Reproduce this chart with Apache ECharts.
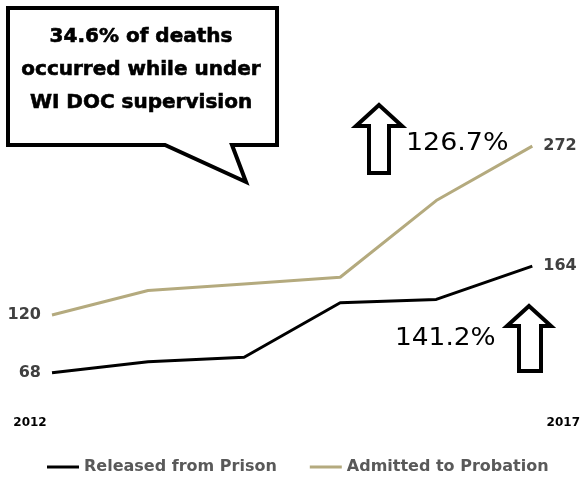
<!DOCTYPE html>
<html><head><meta charset="utf-8">
<script src="https://cdn.jsdelivr.net/npm/echarts@6/dist/echarts.min.js"></script>
<style>html,body{margin:0;padding:0;background:#fff}#c{width:583px;height:477px}</style>
</head><body><div id="c"></div>
<script>
const years = ['2012','2013','2014','2015','2016','2017'];
const releasedFromPrison = [68, 78, 82, 131, 134, 164];
const admittedToProbation = [120, 142, 148, 154, 223, 272];
const seriesNames = ['Released from Prison', 'Admitted to Probation'];
const calloutLines = ['34.6% of deaths', 'occurred while under', 'WI DOC supervision'];
const probationChange = '126.7%';
const prisonChange = '141.2%';

const chart = echarts.init(document.getElementById('c'));
const lastIdx = years.length - 1;
const lblFont = {color: '#404040', fontWeight: 'bold', fontSize: 16, fontFamily: 'DejaVu Sans'};
function withEndLabels(vals) {
  return vals.map((v, i) => {
    if (i === 0) return {value: v, label: Object.assign({show: true, position: 'left', distance: 11}, lblFont)};
    if (i === lastIdx) return {value: v, label: Object.assign({show: true, position: 'right', distance: 11}, lblFont)};
    return {value: v};
  });
}
const labelStyle = Object.assign({show: false}, lblFont);
const bubbleFont = 'bold 20px "DejaVu Sans"';

chart.setOption({
  animation: false,
  backgroundColor: '#fff',
  grid: {left: 52, right: 49, top: 115, height: 300},
  xAxis: {
    type: 'category', data: years, boundaryGap: false,
    axisLine: {show: false}, axisTick: {show: false}, splitLine: {show: false},
    axisLabel: {
      interval: 0, margin: 2,
      formatter: (v, i) => i === 0 ? '{a|' + v + '}' : (i === lastIdx ? '{b|' + v + '}' : ''),
      rich: {
        a: {fontSize: 12, fontWeight: 'bold', color: '#000', fontFamily: 'DejaVu Sans', padding: [0, 44, 0, 0]},
        b: {fontSize: 12, fontWeight: 'bold', color: '#000', fontFamily: 'DejaVu Sans', padding: [0, 0, 0, 62]}
      }
    }
  },
  yAxis: {type: 'value', min: 30, max: 300, show: false, splitLine: {show: false}},
  legend: {
    top: 454, left: 42, itemGap: 33, itemWidth: 32, itemHeight: 3, icon: 'rect',
    textStyle: {color: '#595959', fontWeight: 'bold', fontSize: 16, fontFamily: 'DejaVu Sans'},
    data: seriesNames
  },
  series: [
    {name: seriesNames[0], type: 'line', data: withEndLabels(releasedFromPrison),
     symbol: 'circle', symbolSize: 0, showSymbol: true,
     lineStyle: {color: '#000', width: 3}, itemStyle: {color: '#000'}, label: labelStyle},
    {name: seriesNames[1], type: 'line', data: withEndLabels(admittedToProbation),
     symbol: 'circle', symbolSize: 0, showSymbol: true,
     lineStyle: {color: '#B4AA7E', width: 3}, itemStyle: {color: '#B4AA7E'}, label: labelStyle}
  ],
  graphic: [
    {type: 'polygon', shape: {points: [[8,8],[277,8],[277,145],[232,145],[246,182],[165,145],[8,145]]},
     style: {fill: '#fff', stroke: '#000', lineWidth: 4, lineJoin: 'miter'}},
    {type: 'text', x: 141, y: 37, style: {text: calloutLines[0], fill: '#000', stroke: '#000', lineWidth: 0.6, font: bubbleFont, align: 'center', verticalAlign: 'middle'}},
    {type: 'text', x: 141, y: 70, style: {text: calloutLines[1], fill: '#000', stroke: '#000', lineWidth: 0.6, font: bubbleFont, align: 'center', verticalAlign: 'middle'}},
    {type: 'text', x: 141, y: 103, style: {text: calloutLines[2], fill: '#000', stroke: '#000', lineWidth: 0.6, font: bubbleFont, align: 'center', verticalAlign: 'middle'}},
    {type: 'polygon', shape: {points: [[379,105],[402,126],[389,126],[389,173],[369,173],[369,126],[356,126]]},
     style: {fill: '#fff', stroke: '#000', lineWidth: 4}},
    {type: 'text', x: 406, y: 144, scaleX: 1.12, style: {text: probationChange, fill: '#000', font: '24px "DejaVu Sans"', align: 'left', verticalAlign: 'middle'}},
    {type: 'polygon', shape: {points: [[529,306],[551,326],[541,326],[541,371],[519,371],[519,326],[507,326]]},
     style: {fill: '#fff', stroke: '#000', lineWidth: 4}},
    {type: 'text', x: 395, y: 339, scaleX: 1.1, style: {text: prisonChange, fill: '#000', font: '24px "DejaVu Sans"', align: 'left', verticalAlign: 'middle'}}
  ]
});
</script></body></html>
